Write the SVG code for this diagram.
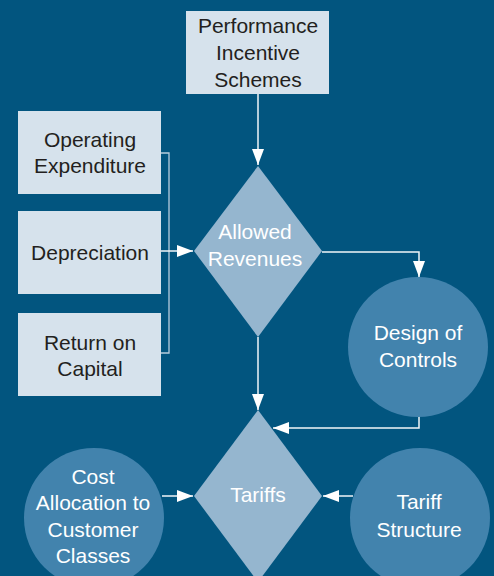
<svg xmlns="http://www.w3.org/2000/svg" width="494" height="576" viewBox="0 0 494 576">
<defs>
<style>
.box{fill:#D6E2EC}
.dia{fill:#95B6CF}
.cir{fill:#4283AD}
.dk{font-family:"Liberation Sans",Arial,sans-serif;font-size:21px;fill:#231F20;text-anchor:middle}
.wt{font-family:"Liberation Sans",Arial,sans-serif;font-size:21px;fill:#FFFFFF;text-anchor:middle}
.ln{fill:none;stroke:#F2F6F9;stroke-width:1.5}
.br{fill:none;stroke:#B8CDDD;stroke-width:1.3}
</style>
<marker id="ah" viewBox="0 0 16 12" refX="16" refY="6" markerWidth="16" markerHeight="12" markerUnits="userSpaceOnUse" orient="auto">
<path d="M0,0 L16,6 L0,12 Z" fill="#FFFFFF"/>
</marker>
</defs>
<rect width="494" height="576" fill="#02557F"/>
<g id="connectors">
<path class="ln" d="M258,94 V165" marker-end="url(#ah)"/>
<path class="br" d="M161,153 H169 V353 H161"/>
<path class="ln" d="M161,251 H193" marker-end="url(#ah)"/>
<path class="ln" d="M322,252 H419 V277" marker-end="url(#ah)"/>
<path class="ln" d="M258,337 V410" marker-end="url(#ah)"/>
<path class="ln" d="M419,416 V428 H273" marker-end="url(#ah)"/>
<path class="ln" d="M162,496 H193" marker-end="url(#ah)"/>
<path class="ln" d="M353,496 H323" marker-end="url(#ah)"/>
</g>
<g id="performance">
<rect class="box" x="186" y="11" width="143" height="83"/>
<text class="dk" x="258" y="33">Performance</text>
<text class="dk" x="258" y="60">Incentive</text>
<text class="dk" x="258" y="87">Schemes</text>
</g>
<g id="operating">
<rect class="box" x="18" y="111" width="143" height="83"/>
<text class="dk" x="90" y="147">Operating</text>
<text class="dk" x="90" y="173">Expenditure</text>
</g>
<g id="depreciation">
<rect class="box" x="18" y="211" width="143" height="83"/>
<text class="dk" x="90" y="260">Depreciation</text>
</g>
<g id="return">
<rect class="box" x="18" y="313" width="143" height="83"/>
<text class="dk" x="90" y="350">Return on</text>
<text class="dk" x="90" y="376">Capital</text>
</g>
<g id="allowed">
<polygon class="dia" points="258,166 322,251 258,337 194,251"/>
<text class="wt" x="255" y="239">Allowed</text>
<text class="wt" x="255" y="266">Revenues</text>
</g>
<g id="design">
<circle class="cir" cx="418" cy="347" r="70"/>
<text class="wt" x="418" y="340">Design of</text>
<text class="wt" x="418" y="367">Controls</text>
</g>
<g id="tariffs">
<polygon class="dia" points="258,410 322,496 258,582 194,496"/>
<text class="wt" x="258" y="502">Tariffs</text>
</g>
<g id="cost">
<circle class="cir" cx="94" cy="518" r="70"/>
<text class="wt" x="93" y="484">Cost</text>
<text class="wt" x="93" y="510">Allocation to</text>
<text class="wt" x="93" y="537">Customer</text>
<text class="wt" x="93" y="563">Classes</text>
</g>
<g id="structure">
<circle class="cir" cx="420" cy="518" r="70"/>
<text class="wt" x="419" y="509">Tariff</text>
<text class="wt" x="419" y="537">Structure</text>
</g>
</svg>
